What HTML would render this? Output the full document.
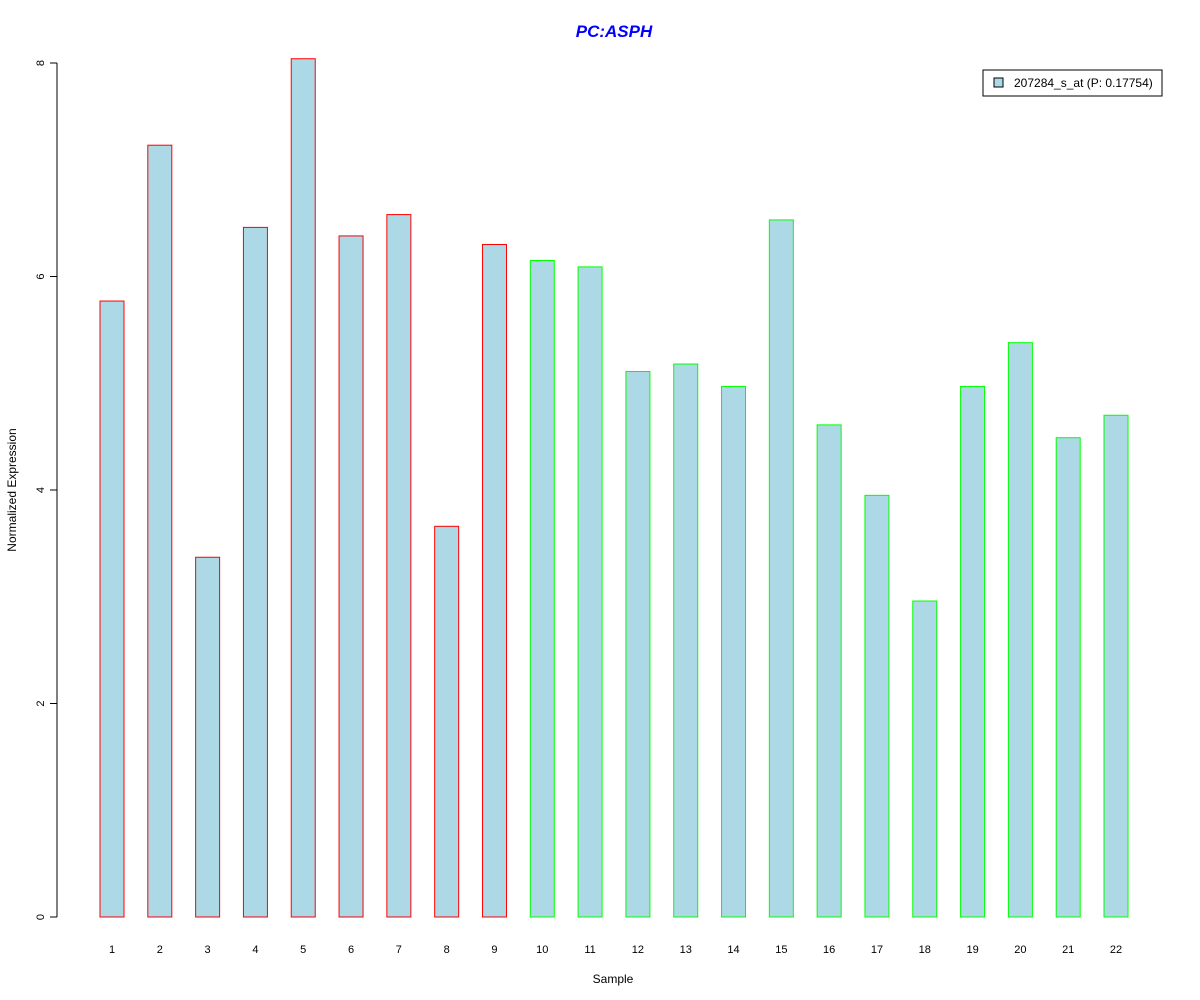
<!DOCTYPE html>
<html><head><meta charset="utf-8"><style>
body{margin:0;background:#fff}
svg{display:block;font-family:"Liberation Sans",Arial,sans-serif}
</style></head><body>
<svg id="chart" width="1200" height="1000" viewBox="0 0 1200 1000">
<rect width="1200" height="1000" fill="#fff"/>
<text x="614" y="37" text-anchor="middle" font-size="17" font-weight="bold" font-style="italic" fill="#0000ff">PC:ASPH</text>
<g id="yaxis"></g>
<g id="bars"></g>
<g id="xlabels"></g>
<text x="613" y="983" text-anchor="middle" font-size="12">Sample</text>
<text transform="translate(16,490) rotate(-90)" text-anchor="middle" font-size="12">Normalized Expression</text>
<g>
<rect x="983" y="70" width="179" height="26" fill="#fff" stroke="#000"/>
<rect x="994" y="78" width="9" height="9" fill="#add8e6" stroke="#000"/>
<text x="1014" y="87" font-size="12">207284_s_at (P: 0.17754)</text>
</g>
</svg>
<script>
const categories=["1","2","3","4","5","6","7","8","9","10","11","12","13","14","15","16","17","18","19","20","21","22"];
const values=[5.77,7.23,3.37,6.46,8.04,6.38,6.58,3.66,6.30,6.15,6.09,5.11,5.18,4.97,6.53,4.61,3.95,2.96,4.97,5.38,4.49,4.70];
const groups=["PC","PC","PC","PC","PC","PC","PC","PC","PC","N","N","N","N","N","N","N","N","N","N","N","N","N"];
const yTicks=[0,2,4,6,8];
const NS="http://www.w3.org/2000/svg";
const y=v=>917-v*106.75;
const x=i=>112+i*47.81;
function mk(t,a,p){const e=document.createElementNS(NS,t);for(const k in a)e.setAttribute(k,a[k]);p.appendChild(e);return e;}
const ya=document.getElementById('yaxis');
const axl=mk('line',{x1:57,x2:57,y1:y(8),y2:y(0),stroke:'#000'},ya);


yTicks.forEach(t=>{
 const l=mk('line',{x1:50,x2:57,y1:y(t),y2:y(t),stroke:'#000'},ya);
 
 
 const tx=mk('text',{transform:`translate(44,${y(t)}) rotate(-90)`,'text-anchor':'middle','font-size':11},ya);
 tx.textContent=t;
 
 
});
const bg=document.getElementById('bars'),xg=document.getElementById('xlabels');
values.forEach((v,i)=>{
 const r=mk('rect',{x:x(i)-12,y:y(v),width:24,height:y(0)-y(v),fill:'#add8e6',stroke:groups[i]==='PC'?'#ff0000':'#00ff00'},bg);
 
 
 const t=mk('text',{x:x(i),y:953,'text-anchor':'middle','font-size':11},xg);
 t.textContent=categories[i];
 
 
});
</script>
</body></html>
